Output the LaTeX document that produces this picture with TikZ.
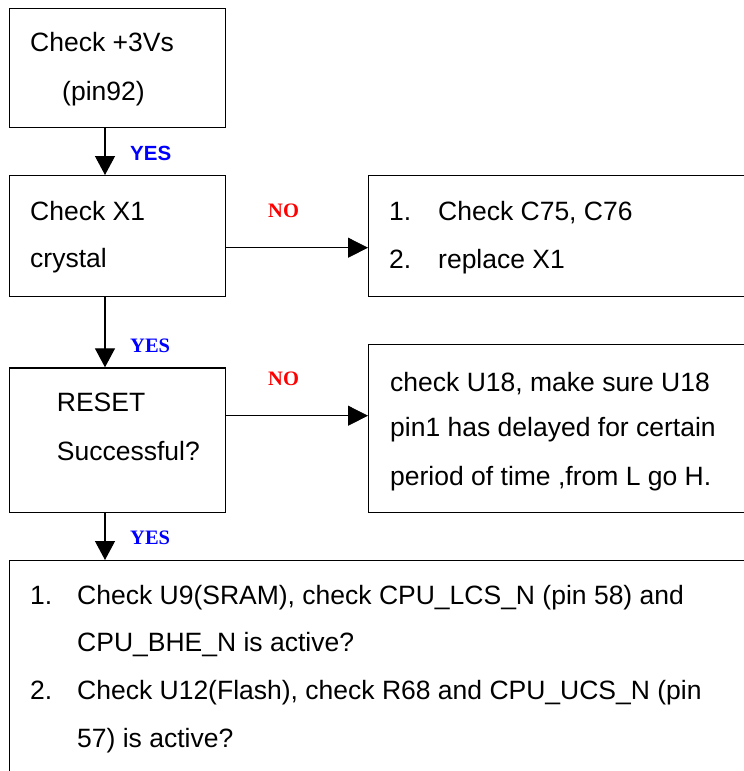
\documentclass[tikz,border=0pt]{standalone}
\usepackage{fontspec}
\setmainfont{Liberation Sans}
\newfontfamily\serifnf{Liberation Serif}
\usetikzlibrary{arrows.meta}
\definecolor{yesblue}{RGB}{0,0,255}
\definecolor{nored}{RGB}{255,0,0}
\begin{document}
\begin{tikzpicture}[x=1pt,y=-1pt,
  box/.style={draw, line width=1.2pt, rectangle, inner sep=0pt, anchor=north west},
  txt/.style={anchor=base west, inner sep=0pt, font=\fontsize{26.5}{30}\selectfont},
  yessans/.style={anchor=base west, inner sep=0pt, text=yesblue, font=\fontsize{20.5}{24}\selectfont\bfseries},
  yesserif/.style={anchor=base west, inner sep=0pt, text=yesblue, font=\serifnf\fontsize{20.5}{24}\selectfont\bfseries},
  nolbl/.style={anchor=base west, inner sep=0pt, text=nored, font=\serifnf\fontsize{20.5}{24}\selectfont\bfseries},
  varr/.style={line width=1.3pt, -{Triangle[length=19pt,width=20pt]}},
  harr/.style={line width=0.8pt, -{Triangle[length=20pt,width=20pt]}},
  stub/.style={line width=1.3pt}
]
\useasboundingbox (0,0) rectangle (744,771);
\fill[white] (0,0) rectangle (744,771);
\clip (0,0) rectangle (744,771);

% boxes
\node[box, minimum width=216.5pt, minimum height=119.5pt] (b1) at (8.5,7.5) {};
\node[box, minimum width=216.5pt, minimum height=120.7pt] (b2) at (8.5,175) {};
\node[box, minimum width=400pt, minimum height=120.7pt] (b3) at (368,175) {};
\node[box, minimum width=216.5pt, minimum height=144.4pt] (b4) at (8.5,367.3) {};
\node[box, minimum width=400pt, minimum height=167.7pt] (b5) at (368,344) {};
\node[box, minimum width=760pt, minimum height=240pt] (b6) at (8.5,560) {};

% texts
\node[txt] (t1a) at (30,51.7) {Check +3Vs};
\node[txt] (t1b) at (62,100) {(pin92)};
\node[txt] (t2a) at (30,220) {Check X1};
\node[txt] (t2b) at (30,267) {crystal};
\node[txt] (t3a) at (389,220) {1.};
\node[txt] (t3b) at (438,220) {Check C75, C76};
\node[txt] (t3c) at (389,268) {2.};
\node[txt] (t3d) at (438,268) {replace X1};
\node[txt] (t4a) at (56.7,411.7) {RESET};
\node[txt] (t4b) at (56.7,460) {Successful?};
\node[txt] (t5a) at (390,391.7) {check U18, make sure U18};
\node[txt] (t5b) at (390,436.7) {pin1 has delayed for certain};
\node[txt] (t5c) at (390,485) {period of time ,from L go H.};
\node[txt] (t6a) at (30,604) {1.};
\node[txt] (t6b) at (77,604) {Check U9(SRAM), check CPU\_LCS\_N (pin 58) and};
\node[txt] (t6c) at (77,651.7) {CPU\_BHE\_N is active?};
\node[txt] (t6d) at (30,699.3) {2.};
\node[txt] (t6e) at (77,699.3) {Check U12(Flash), check R68 and CPU\_UCS\_N (pin};
\node[txt] (t6f) at (77,747.3) {57) is active?};

% labels
\node[yessans] (y1) at (130,160.7) {YES};
\node[yesserif] (y2) at (130,352.3) {YES};
\node[yesserif] (y3) at (130,544) {YES};
\node[nolbl] (n1l) at (268,217.3) {NO};
\node[nolbl] (n2l) at (268,385) {NO};

% connectors
\coordinate (ax) at (105,0);
\coordinate (h1) at (0,247.7);
\coordinate (h2) at (0,415.7);
\draw[varr] (b1.south -| ax) -- (b2.north -| ax);
\draw[varr] (b2.south -| ax) -- (b4.north -| ax);
\draw[varr] (b4.south -| ax) -- (b6.north -| ax);
\draw[stub] (b2.east |- h1) -- ++(23,0);
\draw[harr] (b2.east |- h1) -- (b3.west |- h1);
\draw[stub] (b4.east |- h2) -- ++(23,0);
\draw[harr] (b4.east |- h2) -- (b5.west |- h2);
\end{tikzpicture}
\end{document}
